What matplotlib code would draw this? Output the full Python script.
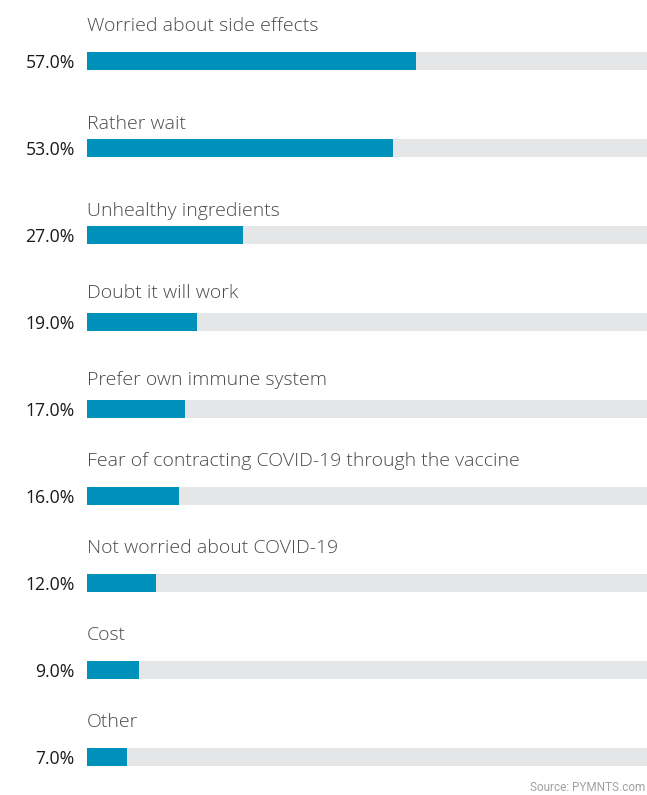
import matplotlib.pyplot as plt
import numpy as np

# Reasons for not getting the vaccine (share of respondents)
reasons = ['Worried about side effects', 'Rather wait', 'Unhealthy ingredients',
           'Doubt it will work', 'Prefer own immune system',
           'Fear of contracting COVID-19 through the vaccine',
           'Not worried about COVID-19', 'Cost', 'Other']
shares = [57.0, 53.0, 27.0, 19.0, 17.0, 16.0, 12.0, 9.0, 7.0]

# gap (px) between each caption baseline and the top of its bar
caption_gap = [21, 10, 10, 15, 15, 21, 21, 21, 21]

W, H = 647, 795
fig = plt.figure(figsize=(W / 100, H / 100), dpi=100)
fig.patch.set_facecolor('white')

row_px = 87.0       # distance between rows
first_px = 61.0     # center of the first bar from the top
bar_px = 18.0       # bar thickness
ax = fig.add_axes([87 / W, 0, (W - 87) / W, 1])
ax.set_xlim(0, (W - 87) / 5.765)
ax.set_ylim((H - first_px) / row_px, -first_px / row_px)
ax.axis('off')

y = np.arange(len(reasons))
h = bar_px / row_px
ax.barh(y, [100] * len(reasons), height=h, color='#e5e6e8', zorder=1)
ax.barh(y, shares, height=h, color='#0091ba', zorder=2)

for i, (name, val) in enumerate(zip(reasons, shares)):
    ax.annotate(name, (0, i), xytext=(0, bar_px / 2 + caption_gap[i]),
                textcoords='offset pixels', ha='left', va='baseline',
                fontsize=14, fontfamily='Open Sans', fontweight='light',
                color='#4a4a4a', annotation_clip=False)
    ax.annotate(f'{val:.1f}%', (0, i), xytext=(-12, 0),
                textcoords='offset pixels', ha='right', va='center_baseline',
                fontsize=12.7, fontfamily='Open Sans', color='#1a1a1a',
                annotation_clip=False)

fig.text(645 / W, 1 - 794 / H, 'Source: PYMNTS.com', ha='right', va='bottom',
         fontsize=8.5, fontfamily='Roboto', color='#a0a0a0')

fig.savefig('out.png', dpi=100)
